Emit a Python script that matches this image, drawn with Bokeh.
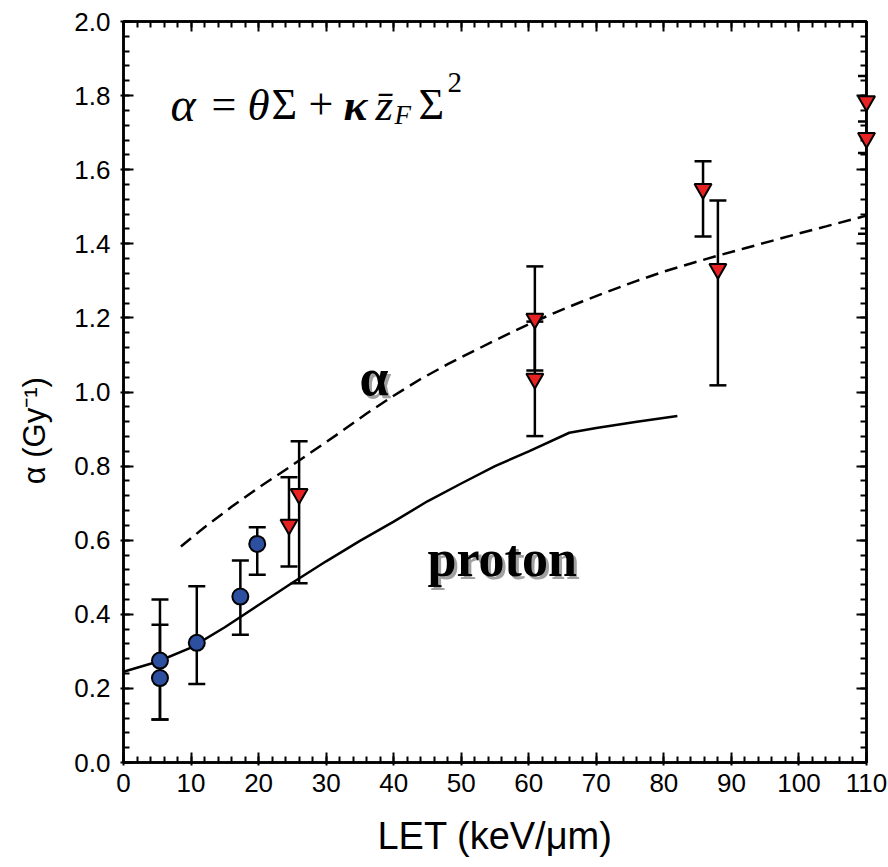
import numpy as np
from bokeh.plotting import figure
from bokeh.models import (ColumnDataSource, Whisker, TeeHead, LinearAxis, Range1d,
                          SingleIntervalTicker, NumeralTickFormatter, Label)
from bokeh.embed import file_html
from bokeh.resources import INLINE

# ---------------- data ----------------
# proton measurements (blue circles)
proton_let = [5.4, 5.4, 10.85, 17.3, 19.8]
proton_alpha = [0.275, 0.228, 0.323, 0.448, 0.590]
proton_upper = [0.440, 0.372, 0.476, 0.545, 0.635]
proton_lower = [0.116, 0.116, 0.212, 0.345, 0.507]

# alpha-particle measurements (red inverted triangles)
alpha_let = [24.5, 26.0, 60.9, 60.9, 85.8, 88.0, 110.0, 110.0]
alpha_alpha = [0.642, 0.725, 1.198, 1.036, 1.548, 1.332, 1.785, 1.686]
alpha_upper = [0.770, 0.867, 1.339, 1.190, 1.623, 1.517, 1.853, 1.730]
alpha_lower = [0.529, 0.484, 1.058, 0.881, 1.420, 1.018, 1.427, 1.645]

# model curve for alpha particles (dashed)
alpha_curve_let = [8.5, 12, 16, 20, 24, 28, 32, 36, 40, 44, 48, 52, 56, 60, 64, 68,
                   72, 76, 80, 84, 88, 92, 96, 100, 104, 110]
alpha_curve_val = [0.583, 0.635, 0.690, 0.742, 0.790, 0.840, 0.890, 0.942, 0.990, 1.035,
                   1.075, 1.112, 1.148, 1.183, 1.215, 1.245, 1.273, 1.300, 1.325, 1.347,
                   1.368, 1.388, 1.408, 1.428, 1.447, 1.476]

# model curve for protons (solid)
proton_curve_let = [0, 5, 10, 15, 20, 25, 30, 35, 40, 45, 50, 55, 60, 66, 70, 76, 82]
proton_curve_val = [0.245, 0.272, 0.310, 0.365, 0.425, 0.485, 0.543, 0.598, 0.650, 0.705,
                    0.753, 0.800, 0.840, 0.890, 0.903, 0.920, 0.935]

x_ticks_interval = 10
y_ticks_interval = 0.2

# ---------------- figure ----------------
W, H = 888, 867
BL, BR, BT, BB = 123, 22, 21, 105
p = figure(width=W, height=H, x_range=Range1d(0, 110), y_range=Range1d(0, 2.0),
           output_backend="svg", toolbar_location=None,
           min_border_left=BL, min_border_right=BR, min_border_top=BT, min_border_bottom=BB,
           background_fill_color="white", border_fill_color="white")
p.outline_line_color = "black"
p.outline_line_width = 2.5
p.xgrid.grid_line_color = None
p.ygrid.grid_line_color = None

xt = SingleIntervalTicker(interval=x_ticks_interval, num_minor_ticks=5)
yt = SingleIntervalTicker(interval=y_ticks_interval, num_minor_ticks=5)

def style_axis(ax, show_labels=True):
    ax.axis_line_width = 2.5
    ax.axis_line_color = "black"
    ax.major_tick_line_width = 2
    ax.minor_tick_line_width = 2
    ax.major_tick_in = 10
    ax.major_tick_out = 3
    ax.minor_tick_in = 6
    ax.minor_tick_out = 0
    if show_labels:
        ax.major_label_text_font = "Liberation Sans"
        ax.major_label_text_font_size = "26px"
        ax.major_label_text_color = "black"
        ax.axis_label_text_font = "Liberation Sans"
        ax.axis_label_text_font_style = "normal"
        ax.axis_label_text_color = "black"
    else:
        ax.major_label_text_color = None
        ax.major_label_text_font_size = "1px"
        ax.major_label_standoff = 0
        ax.major_tick_out = 0

xa = p.xaxis[0]
xa.ticker = xt
style_axis(xa)
xa.axis_label = "LET (keV/\u03bcm)"
xa.axis_label_text_font_size = "38px"
xa.major_label_standoff = 8
xa.axis_label_standoff = 20

ya = p.yaxis[0]
ya.ticker = yt
style_axis(ya)
ya.formatter = NumeralTickFormatter(format="0.0")
ya.axis_label = "\u03b1 (Gy\u207b\u00b9)" + "\u00a0" * 9
ya.axis_label_text_font_size = "31px"
ya.major_label_standoff = 10
ya.axis_label_standoff = 19

top_ax = LinearAxis(ticker=xt)
style_axis(top_ax, show_labels=False)
p.add_layout(top_ax, "above")
right_ax = LinearAxis(ticker=yt)
style_axis(right_ax, show_labels=False)
p.add_layout(right_ax, "right")

# ---------------- curves ----------------
p.line(alpha_curve_let, alpha_curve_val, line_color="black", line_width=2.5, line_dash="13 7")
p.line(proton_curve_let, proton_curve_val, line_color="black", line_width=2.5)

# ---------------- data points ----------------
src_p = ColumnDataSource(dict(x=proton_let, y=proton_alpha, up=proton_upper, lo=proton_lower))
src_a = ColumnDataSource(dict(x=alpha_let, y=alpha_alpha, up=alpha_upper, lo=alpha_lower))

def whisker(src, level):
    return Whisker(source=src, base="x", upper="up", lower="lo", dimension="height",
                   line_width=2.5, line_color="black", level=level,
                   upper_head=TeeHead(size=17, line_width=2.5, line_color="black"),
                   lower_head=TeeHead(size=17, line_width=2.5, line_color="black"))

p.add_layout(whisker(src_p, "underlay"))
tri = p.scatter("x", "y", source=src_a, marker="inverted_triangle", size=17,
                fill_color="#e62222", line_color="black", line_width=2)
tri.level = "overlay"
p.add_layout(whisker(src_a, "annotation"))
p.scatter("x", "y", source=src_p, marker="circle", size=16,
          fill_color="#2c4f9f", line_color="black", line_width=2)

# ---------------- text annotations ----------------
fw, fh = W - BL - BR, H - BT - BB
def dx(px):
    return (px - BL) * 110.0 / fw
def dy(py):
    return (H - BB - py) * 2.0 / fh

def lab(txt, px, py, size, style="normal", font="Liberation Serif", color="black"):
    p.add_layout(Label(x=dx(px), y=dy(py), text=txt, text_font=font, text_font_size=size,
                       text_font_style=style, text_color=color, text_baseline="alphabetic",
                       text_align="left", level="overlay"))

# formula  alpha = theta Sigma + kappa zbar_F Sigma^2
base = 104
lab("\u03b1", 170, base, "48px", "italic")
lab("=", 211, base, "44px")
lab("\u03b8", 247, base, "45px", "italic")
lab("\u03a3", 271, base, "44px")
lab("+", 308, base, "44px")
lab("\u03ba", 343, base, "45px", "bold italic")
lab("z\u0304", 375, base, "45px", "italic")
lab("F", 394, 114, "27px", "italic")
lab("\u03a3", 418, base, "44px")
lab("2", 447, 82, "29px")

# curve labels with drop shadow
lab("\u03b1", 362, 380, "52px", "bold", color="#a0a0a0")
lab("\u03b1", 359, 377, "52px", "bold")
lab("proton", 430, 561, "52px", "bold", color="#a0a0a0")
lab("proton", 427, 558, "52px", "bold")

open("out.html", "w").write(file_html(p, INLINE))
